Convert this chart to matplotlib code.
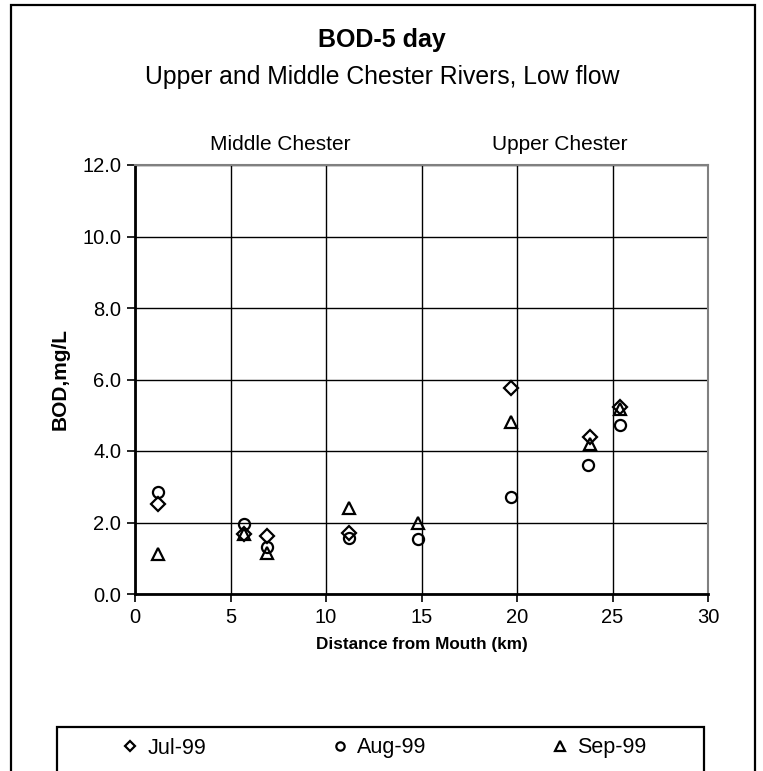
import matplotlib
matplotlib.use("Agg")
import matplotlib.pyplot as plt
from matplotlib.patches import Rectangle

plt.rcParams['font.family'] = ['Liberation Sans', 'DejaVu Sans']

# ---- data ----
series_names = ["Jul-99", "Aug-99", "Sep-99"]
x_jul = [1.2, 5.7, 6.9, 11.2, 19.7, 23.8, 25.4]
y_jul = [2.52, 1.68, 1.63, 1.70, 5.77, 4.38, 5.22]
x_aug = [1.2, 5.7, 6.9, 11.2, 14.8, 19.7, 23.7, 25.4]
y_aug = [2.84, 1.95, 1.32, 1.56, 1.53, 2.72, 3.60, 4.73]
x_sep = [1.2, 5.7, 6.9, 11.2, 14.8, 19.7, 23.8, 25.4]
y_sep = [1.12, 1.67, 1.15, 2.40, 1.99, 4.81, 4.20, 5.18]
x_ticks = [0, 5, 10, 15, 20, 25, 30]
y_ticks = [0.0, 2.0, 4.0, 6.0, 8.0, 10.0, 12.0]
region_labels = ["Middle Chester", "Upper Chester"]

W, H = 763, 771
fig = plt.figure(figsize=(W / 100, H / 100), dpi=100)

def fx(px):
    return px / W

def fy(py):
    return 1 - py / H

# outer frame
fig.patches.append(Rectangle((fx(11), fy(790)), fx(755) - fx(11), fy(5) - fy(790),
                             transform=fig.transFigure, fill=False, ec='black', lw=1.6,
                             clip_on=False))

ax = fig.add_axes([fx(135), fy(594), fx(708) - fx(135), fy(165) - fy(594)])
ax.set_xlim(0, 30)
ax.set_ylim(0, 12)
ax.set_xticks(x_ticks)
ax.set_xticklabels([str(v) for v in x_ticks])
ax.set_yticks(y_ticks)
ax.set_yticklabels([f"{v:.1f}" for v in y_ticks])
ax.grid(True, color='black', lw=1.0)
ax.set_axisbelow(True)
ax.tick_params(axis='both', direction='out', length=6, width=1.2, labelsize=14.5, pad=4)
for s in ['left', 'bottom']:
    ax.spines[s].set_linewidth(2.0)
    ax.spines[s].set_color('black')
for s in ['top', 'right']:
    ax.spines[s].set_linewidth(1.5)
    ax.spines[s].set_color('#808080')

mk = dict(linestyle='none', mfc='none', mec='black', mew=1.6)
ax.plot(x_jul, y_jul, marker='D', ms=7, label=series_names[0], clip_on=False, **mk)
ax.plot(x_aug, y_aug, marker='o', ms=8, label=series_names[1], clip_on=False, **mk)
ax.plot(x_sep, y_sep, marker='^', ms=9, label=series_names[2], clip_on=False, **mk)

ax.set_xlabel("Distance from Mouth (km)", fontsize=12.3, fontweight='bold', labelpad=7)
ax.set_ylabel("BOD,mg/L", fontsize=15, fontweight='bold', labelpad=9)

fig.text(fx(382), fy(40), "BOD-5 day", fontsize=18, fontweight='bold', ha='center', va='center')
fig.text(fx(382), fy(77), "Upper and Middle Chester Rivers, Low flow", fontsize=17.8,
         ha='center', va='center')
fig.text(fx(280), fy(145), region_labels[0], fontsize=15, ha='center', va='center')
fig.text(fx(560), fy(145), region_labels[1], fontsize=15, ha='center', va='center')

# legend box
fig.patches.append(Rectangle((fx(57), fy(800)), fx(704) - fx(57), fy(727) - fy(800),
                             transform=fig.transFigure, fill=False, ec='black', lw=1.6,
                             clip_on=False))
handles, labels = ax.get_legend_handles_labels()
leg = fig.legend(handles, labels, loc='center', ncol=3, frameon=False,
                 bbox_to_anchor=(fx(384), fy(748)), fontsize=15.5, markerscale=0.75,
                 handlelength=0.8, handletextpad=0.4, columnspacing=5.8)

fig.savefig("out.png", dpi=100)
